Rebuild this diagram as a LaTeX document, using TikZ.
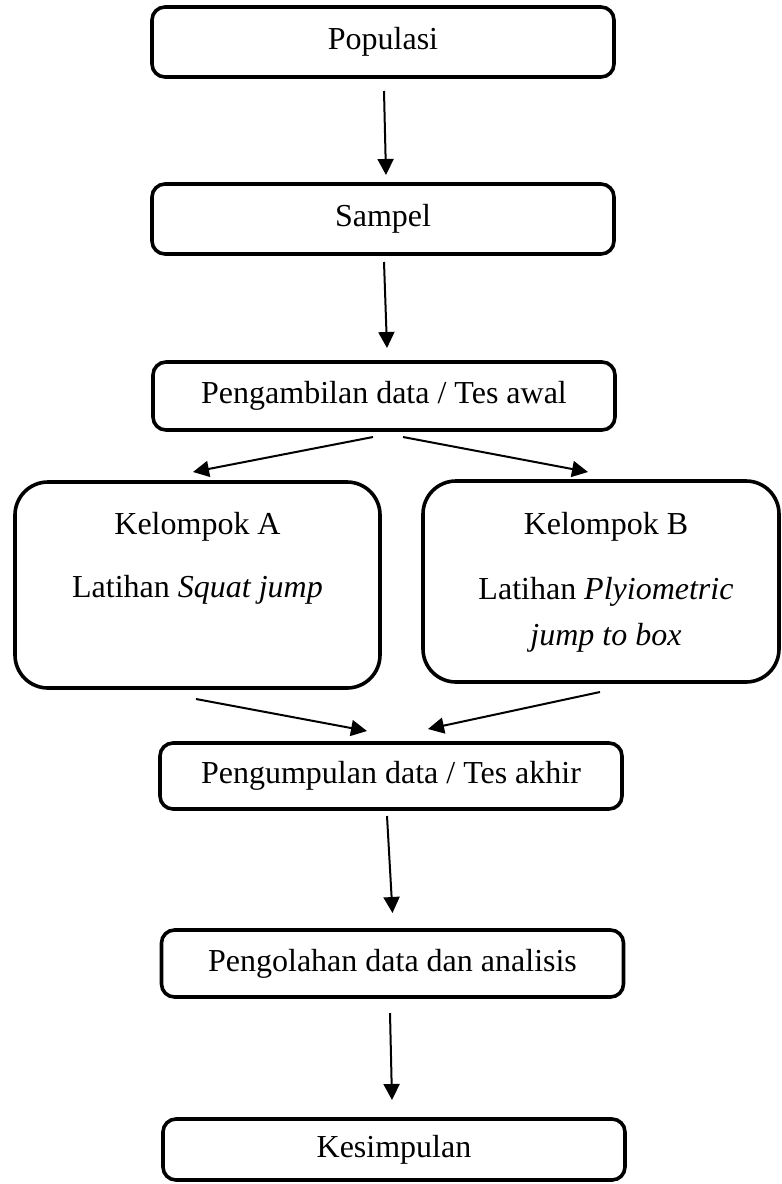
\documentclass[tikz,border=0pt]{standalone}
\usepackage{fontspec}
\setmainfont{Liberation Serif}
\usetikzlibrary{arrows.meta,calc}
\begin{document}
\begin{tikzpicture}[x=0.5pt,y=-0.5pt,
  box/.style={draw, line width=1.8pt, rounded corners=6.5pt, minimum width=231pt,
    inner sep=0pt, outer sep=0pt, font=\fontsize{16}{19}\selectfont, align=center},
  bigbox/.style={draw, line width=1.8pt, rounded corners=16.5pt, inner sep=0pt, outer sep=0pt},
  txt/.style={font=\fontsize{16}{23}\selectfont, align=center, inner sep=0pt},
  arr/.style={line width=1pt, -{Triangle[length=8pt,width=8pt]}}]
\useasboundingbox (0,0) rectangle (782,1184);

\node[box, minimum height=35pt] (pop) at (383,42) {Populasi};
\node[box, minimum height=35pt] (sam) at (383,219) {Sampel};
\node[box, minimum height=34pt] (peng) at (384,396) {Pengambilan data / Tes awal};
\node[bigbox, minimum width=182.5pt, minimum height=103pt] (ka) at (197.5,585) {};
\node[bigbox, minimum width=178pt, minimum height=100.5pt] (kb) at (601,581.5) {};
\node[txt] (kat) at (197.5,558) {Kelompok A\\[8.5pt]Latihan \textit{Squat jump}};
\node[txt] (kbt) at (606,582) {Kelompok B\\[9.5pt]Latihan \textit{Plyiometric}\\\textit{jump to box}};
\node[box, minimum height=33pt] (pengu) at (391,776) {Pengumpulan data / Tes akhir};
\node[box, minimum height=33.5pt] (pengo) at (392.5,963.5) {Pengolahan data dan analisis};
\node[box, minimum height=30.5pt] (kes) at (394,1149.5) {Kesimpulan};

\draw[arr] ([shift={(1,14)}]pop.south) -- ([shift={(3,-9)}]sam.north);
\draw[arr] ([shift={(1,8)}]sam.south) -- ([shift={(3,-14)}]peng.north);
\draw[arr] ([shift={(-11,7)}]peng.south) -- ([shift={(-4.5,-10)}]ka.north);
\draw[arr] ([shift={(19,7)}]peng.south) -- ([shift={(-13,-9)}]kb.north);
\draw[arr] ([shift={(-1.5,11)}]ka.south) -- ([shift={(-24,-12)}]pengu.north);
\draw[arr] ([shift={(-1,10)}]kb.south) -- ([shift={(37,-14)}]pengu.north);
\draw[arr] ([shift={(-4,7)}]pengu.south) -- ([shift={(0,-17)}]pengo.north);
\draw[arr] ([shift={(-2.5,16)}]pengo.south) -- ([shift={(-2,-19)}]kes.north);
\end{tikzpicture}
\end{document}
